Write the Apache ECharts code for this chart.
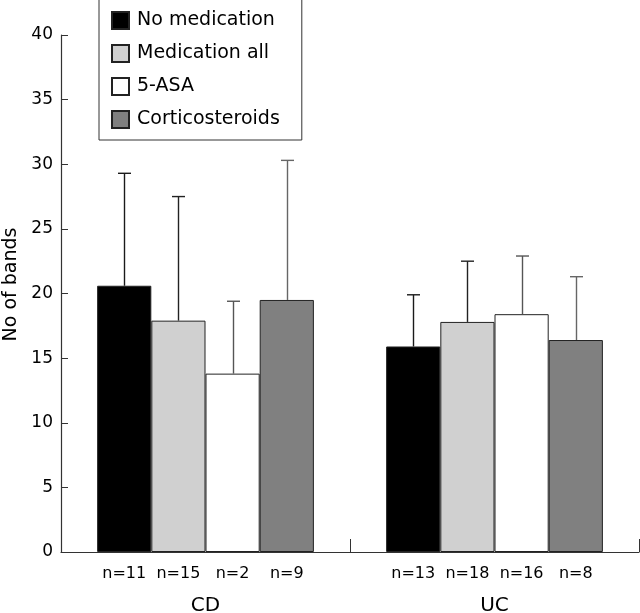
<!DOCTYPE html>
<html>
<head>
<meta charset="utf-8">
<script src="https://cdn.jsdelivr.net/npm/echarts@6/dist/echarts.min.js"></script>
<style>html,body{margin:0;padding:0;background:#fff}#c{width:640px;height:613px}</style>
</head>
<body>
<div id="c"></div>
<script>
const categories = ['CD', 'UC'];
const seriesNames = ['No medication', 'Medication all', '5-ASA', 'Corticosteroids'];
const meanNoMed = [20.6, 15.9];
const meanMedAll = [17.9, 17.8];
const mean5ASA = [13.8, 18.4];
const meanCortico = [19.5, 16.4];
const sdNoMed = [8.7, 4.0];
const sdMedAll = [9.6, 4.7];
const sd5ASA = [5.6, 4.5];
const sdCortico = [10.8, 4.9];
const nNoMed = [11, 13];
const nMedAll = [15, 18];
const n5ASA = [2, 16];
const nCortico = [9, 8];

const means = [meanNoMed, meanMedAll, mean5ASA, meanCortico];
const sds = [sdNoMed, sdMedAll, sd5ASA, sdCortico];
const ns = [nNoMed, nMedAll, n5ASA, nCortico];
const fills = ['#000000', '#d0d0d0', '#ffffff', '#808080'];
const errColors = ['#1a1a1a', '#222222', '#555555', '#666666'];
const FONT = 'DejaVu Sans';

const barSeries = seriesNames.map((name, i) => ({
  name: name,
  type: 'bar',
  barGap: 0,
  barCategoryGap: '25%',
  data: means[i],
  itemStyle: { color: fills[i], borderColor: '#222', borderWidth: 1 },
  label: {
    show: true,
    position: 'bottom',
    distance: 14,
    fontFamily: FONT,
    fontSize: 16,
    color: '#000',
    formatter: p => 'n=' + ns[i][p.dataIndex]
  },
  emphasis: { disabled: true },
  z: 2
}));

const errData = [];
for (let s = 0; s < 4; s++) {
  for (let c = 0; c < categories.length; c++) {
    errData.push([c, s, means[s][c], sds[s][c]]);
  }
}

const errSeries = {
  type: 'custom',
  name: 'err',
  encode: { x: 0, y: 2 },
  data: errData,
  z: 5,
  renderItem: function (params, api) {
    const c = api.value(0), s = api.value(1), m = api.value(2), sd = api.value(3);
    const top = api.coord([c, m + sd]);
    const bot = api.coord([c, m]);
    const catW = api.size([1, 0])[0];
    const bw = catW * 0.75 / 4;
    const x = Math.round(top[0] + (s - 1.5) * bw) + 0.5;
    const col = errColors[s];
    return {
      type: 'group',
      children: [
        { type: 'line', shape: { x1: x, y1: bot[1], x2: x, y2: top[1] }, style: { stroke: col, lineWidth: 1.4 } },
        { type: 'line', shape: { x1: x - 6.5, y1: top[1], x2: x + 6.5, y2: top[1] }, style: { stroke: col, lineWidth: 1.4 } }
      ]
    };
  }
};

const chart = echarts.init(document.getElementById('c'));
chart.setOption({
  animation: false,
  backgroundColor: '#fff',
  grid: { left: 61, right: 1, top: 35, bottom: 61, containLabel: false, outerBoundsMode: 'none' },
  legend: {
    data: seriesNames,
    orient: 'vertical',
    left: 99,
    top: -1,
    padding: [12, 22, 11, 12],
    itemGap: 14,
    itemWidth: 17,
    itemHeight: 17,
    icon: 'rect',
    borderColor: '#333',
    borderWidth: 1,
    backgroundColor: '#fff',
    textStyle: { fontFamily: FONT, fontSize: 19, color: '#000', padding: [0, 0, 0, 3] }
  },
  xAxis: {
    type: 'category',
    data: categories,
    axisLine: { lineStyle: { color: '#333', width: 1.2 } },
    axisTick: { show: true, inside: true, length: 13, interval: 0, lineStyle: { color: '#333' } },
    axisLabel: { fontFamily: FONT, fontSize: 20, color: '#000', margin: 44 }
  },
  yAxis: {
    type: 'value',
    min: 0,
    max: 40,
    interval: 5,
    name: 'No of bands',
    nameLocation: 'middle',
    nameGap: 40,
    nameTextStyle: { fontFamily: FONT, fontSize: 19, color: '#000', padding: [0, 0, 0, 18] },
    axisLine: { show: true, lineStyle: { color: '#333', width: 1.2 } },
    axisTick: { show: true, inside: true, length: 7, lineStyle: { color: '#333' } },
    axisLabel: { fontFamily: FONT, fontSize: 17, color: '#000', margin: 8 },
    splitLine: { show: false }
  },
  series: barSeries.concat([errSeries])
});
</script>
</body>
</html>
